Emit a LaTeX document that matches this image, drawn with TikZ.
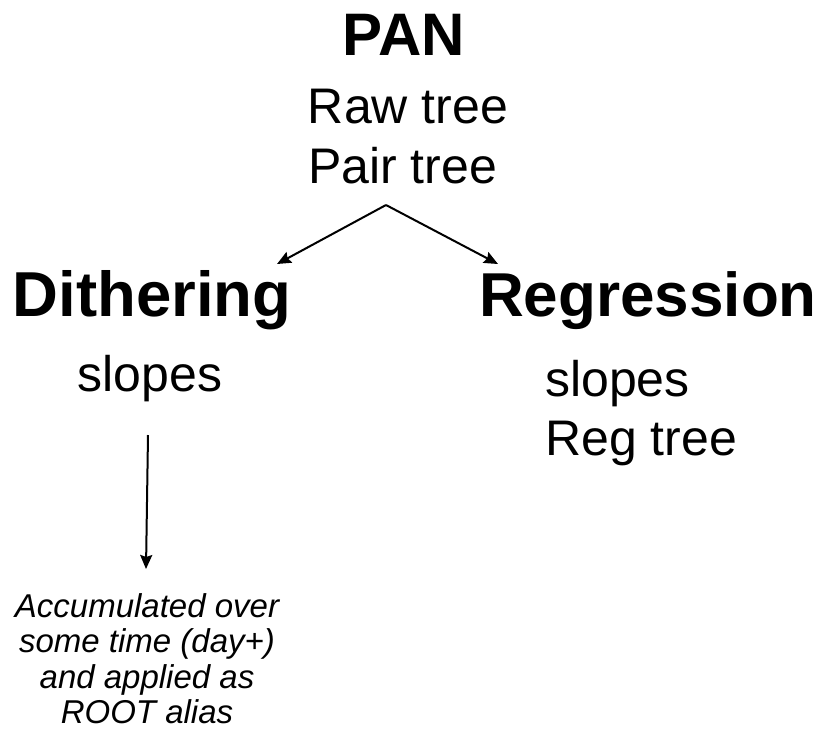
\documentclass[tikz,border=0pt]{standalone}
\usepackage{fontspec}
\setmainfont{Liberation Sans}
\usetikzlibrary{arrows.meta}
\begin{document}
\begin{tikzpicture}[x=1pt,y=-1pt,
  title/.style={inner sep=0pt,anchor=base,font=\fontsize{62}{70}\selectfont\bfseries},
  body/.style={inner sep=0pt,anchor=base,font=\fontsize{50}{60}\selectfont},
  note/.style={inner sep=0pt,anchor=base,font=\fontsize{33}{36}\selectfont\itshape},
  conn/.style={line width=2pt,-{Stealth[length=14pt,width=12pt,inset=2pt]}}]
\useasboundingbox (0,0) rectangle (829,729);
\node[title,font=\fontsize{60}{70}\selectfont\bfseries] (pan) at (404,55) {PAN};
\node[body] (raw) at (408,123) {Raw tree};
\node[body] (pair) at (402.5,183) {Pair tree};
\node[title,font=\fontsize{63.5}{70}\selectfont\bfseries] (dith) at (152,316) {Dithering};
\node[title] (reg) at (648,316) {Regression};
\node[body] (sl1) at (150,391) {slopes};
\node[body,anchor=base west] (sl2) at (545,396) {slopes};
\node[body,anchor=base west] (regtree) at (545,455) {Reg tree};
\node[note] (n1) at (147,617) {Accumulated over};
\node[note] (n2) at (147,652) {some time (day+)};
\node[note] (n3) at (147,688) {and applied as};
\node[note] (n4) at (147,723) {ROOT alias};
\coordinate (split) at (386,205);
\coordinate (dtip) at (277,264);
\coordinate (rtip) at (498,264);
\coordinate (vstart) at (148,435);
\coordinate (vtip) at (146,569);
\draw[conn] (split) -- (dtip);
\draw[conn] (split) -- (rtip);
\draw[conn] (vstart) -- (vtip);
\end{tikzpicture}
\end{document}
